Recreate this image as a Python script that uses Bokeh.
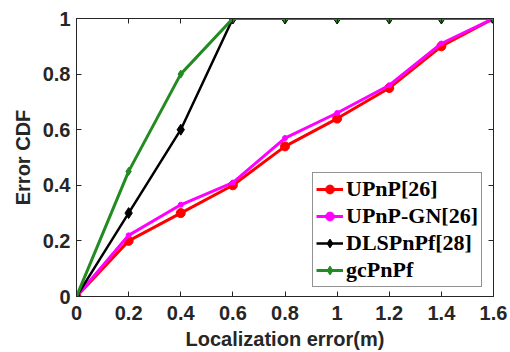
from bokeh.plotting import figure
from bokeh.models import LinearAxis, Legend, LegendItem, Range1d, FixedTicker
from bokeh.embed import file_html
from bokeh.resources import INLINE

x = [0, 0.2, 0.4, 0.6, 0.8, 1.0, 1.2, 1.4, 1.6]
upnp = [0, 0.20, 0.30, 0.40, 0.54, 0.64, 0.75, 0.90, 1.0]
upnp_gn = [0, 0.22, 0.33, 0.41, 0.57, 0.66, 0.76, 0.91, 1.0]
dls = [0, 0.30, 0.60, 1.0, 1.0, 1.0, 1.0, 1.0, 1.0]
gc = [0, 0.45, 0.80, 1.0, 1.0, 1.0, 1.0, 1.0, 1.0]
labels = ["UPnP[26]", "UPnP-GN[26]", "DLSPnPf[28]", "gcPnPf"]
xticks = [0, 0.2, 0.4, 0.6, 0.8, 1.0, 1.2, 1.4, 1.6]
yticks = [0, 0.2, 0.4, 0.6, 0.8, 1.0]

p = figure(width=510, height=352, output_backend="svg", toolbar_location=None,
           x_range=Range1d(0, 1.6), y_range=Range1d(0, 1),
           min_border_left=76, min_border_right=17, min_border_top=18, min_border_bottom=55,
           x_axis_label="Localization error(m)", y_axis_label="Error CDF")
p.xgrid.visible = False
p.ygrid.visible = False
p.outline_line_color = "#262626"
p.outline_line_width = 1

axcol = "#262626"
for ax in [p.xaxis[0], p.yaxis[0]]:
    ax.major_label_text_font = "Liberation Sans"
    ax.major_label_text_font_style = "bold"
    ax.major_label_text_font_size = "20px"
    ax.major_label_text_color = "#262626"
    ax.axis_label_text_font = "Liberation Sans"
    ax.axis_label_text_font_style = "bold"
    ax.axis_label_text_font_size = "20px"
    ax.axis_label_text_color = "#262626"
    ax.major_tick_in = 5
    ax.major_tick_out = 0
    ax.minor_tick_line_color = None
    ax.axis_line_color = axcol
    ax.major_tick_line_color = axcol
p.xaxis[0].ticker = FixedTicker(ticks=xticks)
p.yaxis[0].ticker = FixedTicker(ticks=yticks)
p.xaxis[0].major_label_overrides = {0: "0", 1.0: "1"}
p.yaxis[0].major_label_overrides = {0: "0", 1.0: "1"}
p.xaxis[0].major_label_standoff = 9
p.yaxis[0].major_label_standoff = 6
p.xaxis[0].axis_label_standoff = 5
p.yaxis[0].axis_label_standoff = 6

for loc, tk in [("above", xticks), ("right", yticks)]:
    a = LinearAxis(ticker=FixedTicker(ticks=tk), major_label_text_color=None,
                   major_label_text_font_size="1px",
                   major_tick_in=5, major_tick_out=0, minor_tick_line_color=None,
                   axis_line_color=axcol, major_tick_line_color=axcol,
                   major_label_standoff=0)
    p.add_layout(a, loc)

l1 = p.line(x, upnp, color="red", line_width=3)
s1 = p.scatter(x, upnp, marker="circle", size=9, color="red")
l2 = p.line(x, upnp_gn, color="magenta", line_width=3)
s2 = p.scatter(x, upnp_gn, marker="circle", size=5, color="magenta")
l3 = p.line(x, dls, color="black", line_width=2.5)
s3 = p.scatter(x, dls, marker="diamond", size=11, color="black")
l4 = p.line(x, gc, color="#228B22", line_width=3)
s4 = p.scatter(x, gc, marker="diamond", size=8, color="#228B22")

items = []
for lab, rs in zip(labels, [[l1, s1], [l2, s2], [l3, s3], [l4, s4]]):
    items.append(LegendItem(label=lab, renderers=rs))

leg = Legend(items=items, location=(236, 9),
             label_text_font="Liberation Serif", label_text_font_style="bold",
             label_text_font_size="22px", label_text_color="black",
             glyph_width=27, glyph_height=22, label_height=22, spacing=1,
             label_standoff=3, padding=3, margin=0,
             border_line_color="#262626", border_line_width=1,
             background_fill_color="white")
p.add_layout(leg, "center")

open("out.html", "w").write(file_html(p, INLINE))
